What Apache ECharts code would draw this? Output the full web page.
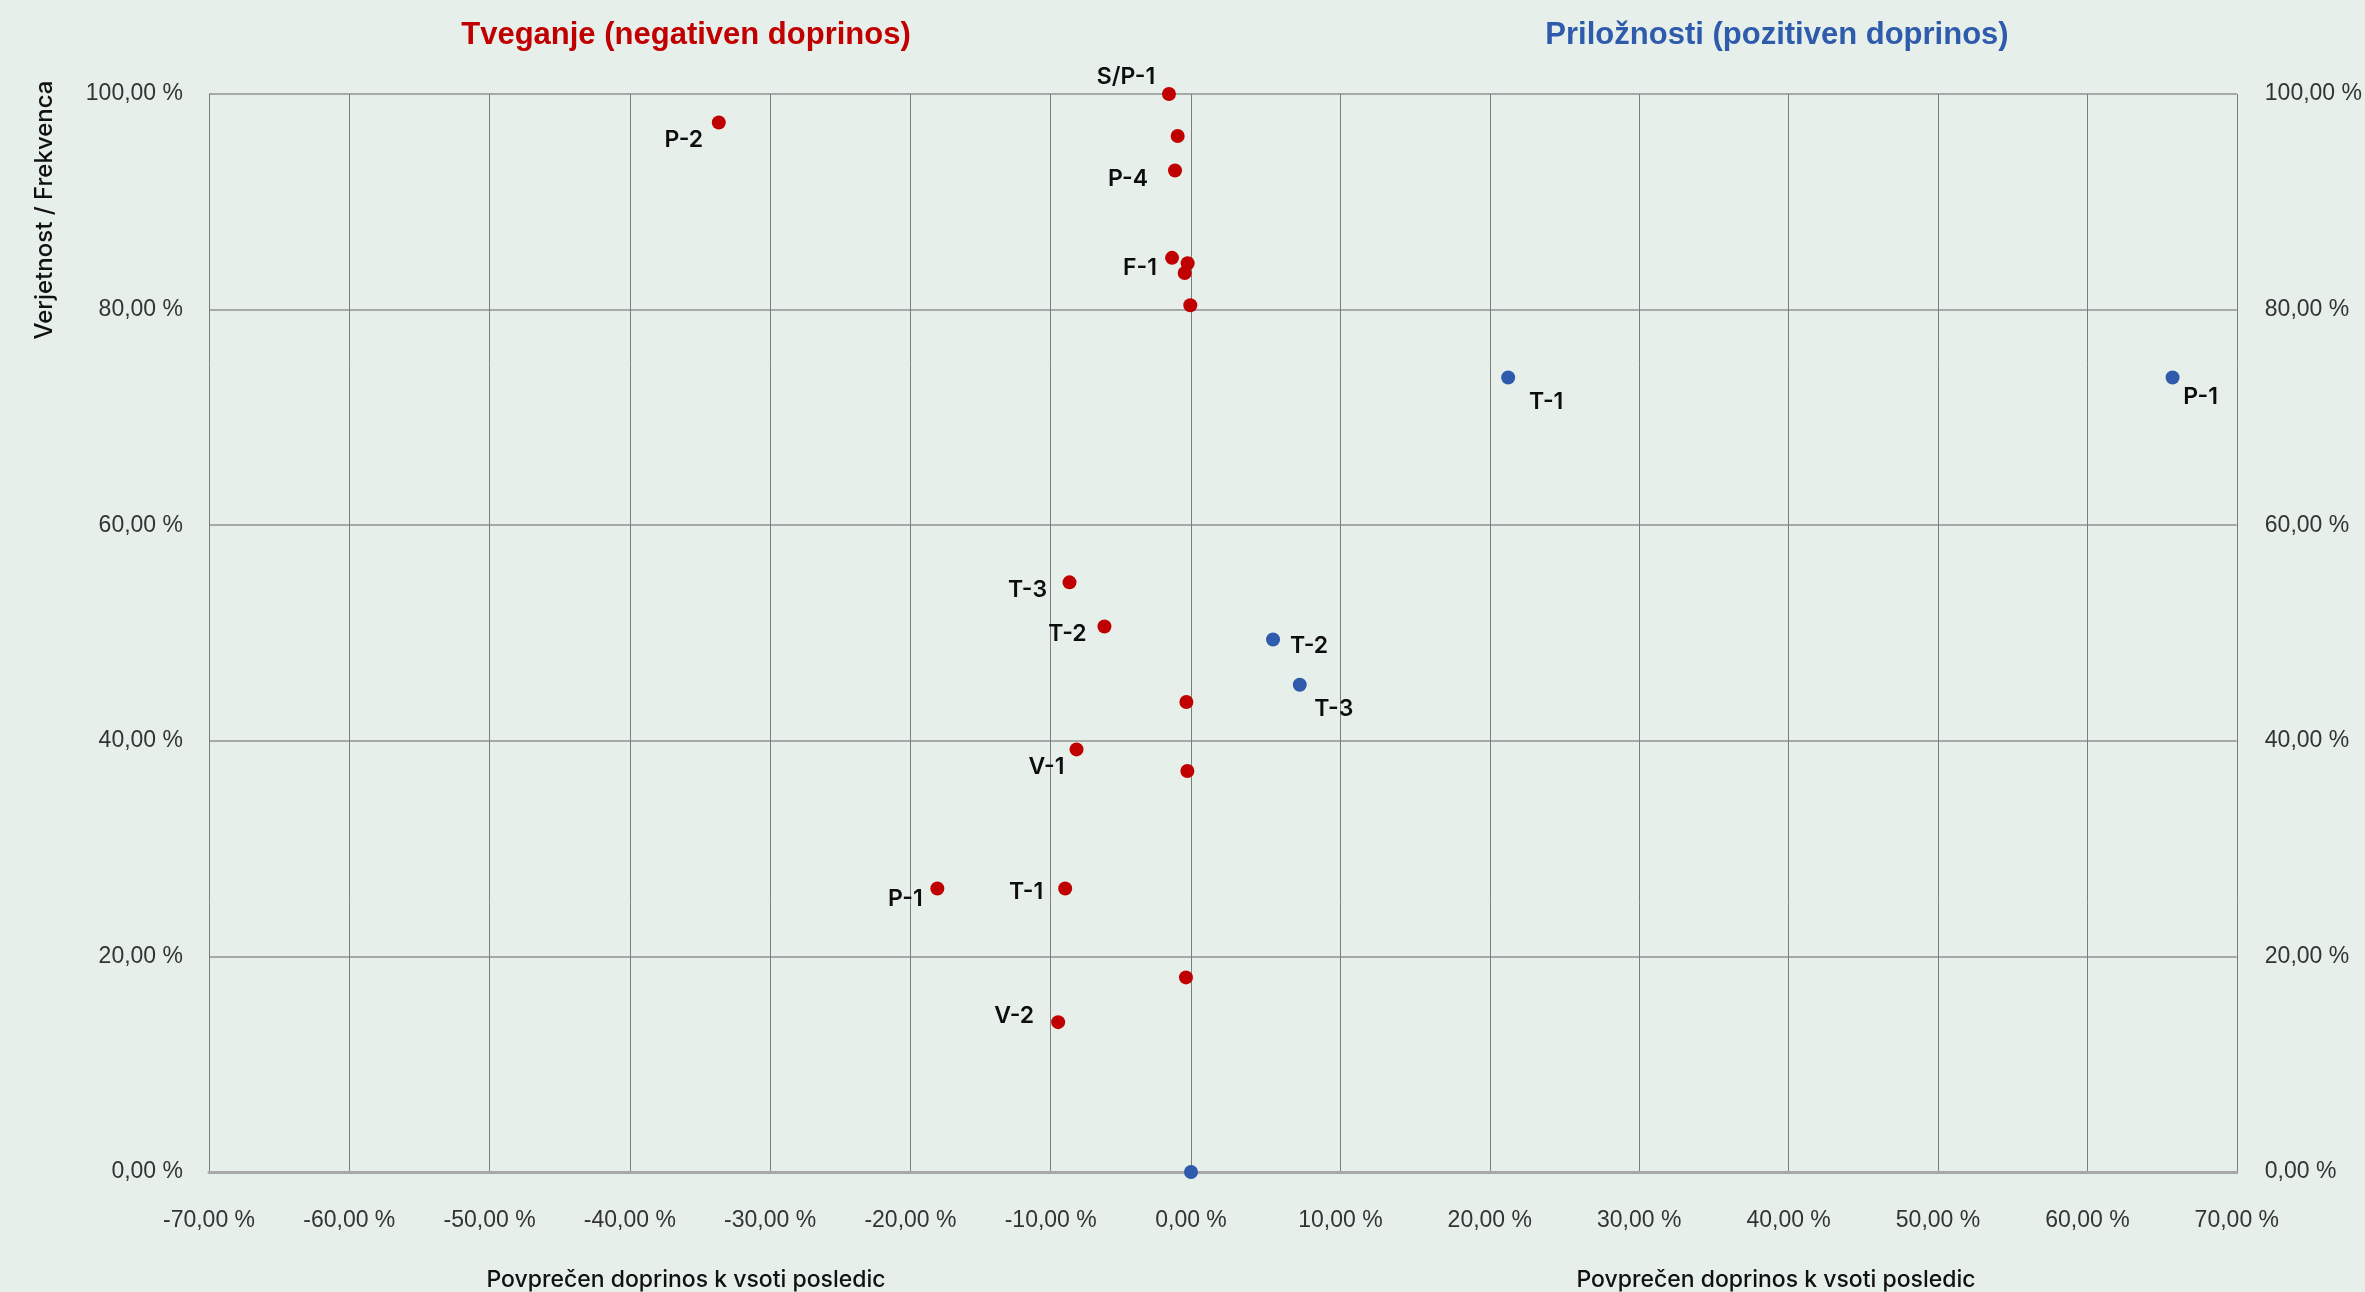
<!DOCTYPE html>
<html>
<head>
<meta charset="utf-8">
<script src="https://cdn.jsdelivr.net/npm/echarts@6/dist/echarts.min.js"></script>
<style>
  html, body { margin: 0; padding: 0; background: #e7efea; }
  #chart { width: 2365px; height: 1292px; }
</style>
</head>
<body>
<div id="chart"></div>
<script>
// ---- Data ----
const riskNames = ['S/P-1', '', 'P-2', 'P-4', 'F-1', '', '', '', 'T-3', 'T-2', '', 'V-1', '', 'P-1', 'T-1', '', 'V-2'];
const riskX = [-1.57, -0.95, -33.66, -1.14, -1.35, -0.24, -0.45, -0.05, -8.66, -6.17, -0.33, -8.16, -0.26, -18.08, -8.97, -0.36, -9.47];
const riskY = [100.0, 96.1, 97.35, 92.9, 84.8, 84.3, 83.4, 80.4, 54.7, 50.6, 43.6, 39.2, 37.2, 26.3, 26.3, 18.05, 13.9];

const oppNames = ['T-1', 'P-1', 'T-2', 'T-3', ''];
const oppX = [21.23, 65.7, 5.49, 7.28, 0];
const oppY = [73.7, 73.7, 49.4, 45.2, 0];

const riskTitle = 'Tveganje (negativen doprinos)';
const oppTitle = 'Priložnosti (pozitiven doprinos)';
const xAxisTitle = 'Povprečen doprinos k vsoti posledic';
const yAxisTitle = 'Verjetnost / Frekvenca';

// ---- Layout (label offsets relative to point centre) ----
const riskLabelOffset = [[-43,-17], null, [-35,18], [-47,9], [-32,10], null, null, null, [-42,8], [-37,8], null, [-30,18], null, [-32,11], [-39,4], null, [-44,-6]];
const oppLabelOffset = [[38,25], [28,20], [36,7], [34,24], null];

const RED = '#c00000';
const BLUE = '#2e5bab';
const fmt = v => v.toFixed(2).replace('.', ',') + ' %';

function buildData(xs, ys, names, offs) {
  return xs.map((x, i) => {
    const item = { value: [x, ys[i]], name: names[i] };
    if (names[i] && offs[i]) {
      item.label = { show: true, position: 'inside', offset: offs[i], formatter: names[i] };
    }
    return item;
  });
}

const labelStyle = {
  show: false,
  color: '#0d0d0d',
  fontFamily: 'Inter',
  fontWeight: 600,
  fontSize: 23,
  align: 'center',
  verticalAlign: 'middle'
};

const axisLabelStyle = { color: '#333', fontFamily: 'Liberation Sans', fontSize: 23 };
const vSplit = { show: true, lineStyle: { color: '#7d7d7d', width: 1 } };
const hSplit = { show: true, lineStyle: { color: '#929292', width: 1.5 } };

const chart = echarts.init(document.getElementById('chart'), null, { renderer: 'canvas' });

chart.setOption({
  backgroundColor: '#e7efea',
  animation: false,
  grid: [
    { left: 209, right: 2365 - 1191, top: 94, bottom: 1292 - 1172 },
    { left: 1191, right: 2365 - 2237, top: 94, bottom: 1292 - 1172 }
  ],
  xAxis: [
    {
      gridIndex: 0, type: 'value', min: -70, max: 0, interval: 10,
      axisLine: { show: true, onZero: false, lineStyle: { color: '#a8a8a8', width: 3 } },
      axisTick: { show: false },
      axisLabel: Object.assign({ margin: 37, formatter: fmt }, axisLabelStyle),
      splitLine: vSplit
    },
    {
      gridIndex: 1, type: 'value', min: 0, max: 70, interval: 10,
      axisLine: { show: true, onZero: false, lineStyle: { color: '#a8a8a8', width: 3 } },
      axisTick: { show: false },
      axisLabel: Object.assign({ margin: 37, formatter: fmt, showMinLabel: false }, axisLabelStyle),
      splitLine: vSplit
    }
  ],
  yAxis: [
    {
      gridIndex: 0, type: 'value', min: 0, max: 100, interval: 20, position: 'left',
      axisLine: { show: false }, axisTick: { show: false },
      axisLabel: Object.assign({ margin: 26, formatter: fmt }, axisLabelStyle),
      splitLine: hSplit
    },
    {
      gridIndex: 1, type: 'value', min: 0, max: 100, interval: 20, position: 'right',
      axisLine: { show: false }, axisTick: { show: false },
      axisLabel: Object.assign({ margin: 28, formatter: fmt }, axisLabelStyle),
      splitLine: hSplit
    }
  ],
  series: [
    {
      type: 'scatter', name: riskTitle, xAxisIndex: 0, yAxisIndex: 0,
      symbolSize: 14, clip: false, z: 5,
      itemStyle: { color: RED, opacity: 1 },
      label: labelStyle,
      data: buildData(riskX, riskY, riskNames, riskLabelOffset)
    },
    {
      type: 'scatter', name: oppTitle, xAxisIndex: 1, yAxisIndex: 1,
      symbolSize: 14, clip: false, z: 5,
      itemStyle: { color: BLUE, opacity: 1 },
      label: labelStyle,
      data: buildData(oppX, oppY, oppNames, oppLabelOffset)
    }
  ],
  graphic: [
    { type: 'text', x: 686, y: 35, style: { text: riskTitle, fill: RED, font: 'bold 31px "Liberation Sans"', align: 'center', verticalAlign: 'middle' } },
    { type: 'text', x: 1777, y: 35, style: { text: oppTitle, fill: BLUE, font: 'bold 31px "Liberation Sans"', align: 'center', verticalAlign: 'middle' } },
    { type: 'text', x: 686, y: 1280, style: { text: xAxisTitle, fill: '#111', font: '500 23px Inter', align: 'center', verticalAlign: 'middle' } },
    { type: 'text', x: 1776, y: 1280, style: { text: xAxisTitle, fill: '#111', font: '500 23px Inter', align: 'center', verticalAlign: 'middle' } },
    { type: 'text', x: 45, y: 210, rotation: Math.PI / 2, style: { text: yAxisTitle, fill: '#111', font: '500 24px Inter', align: 'center', verticalAlign: 'middle' } }
  ]
});
</script>
</body>
</html>
